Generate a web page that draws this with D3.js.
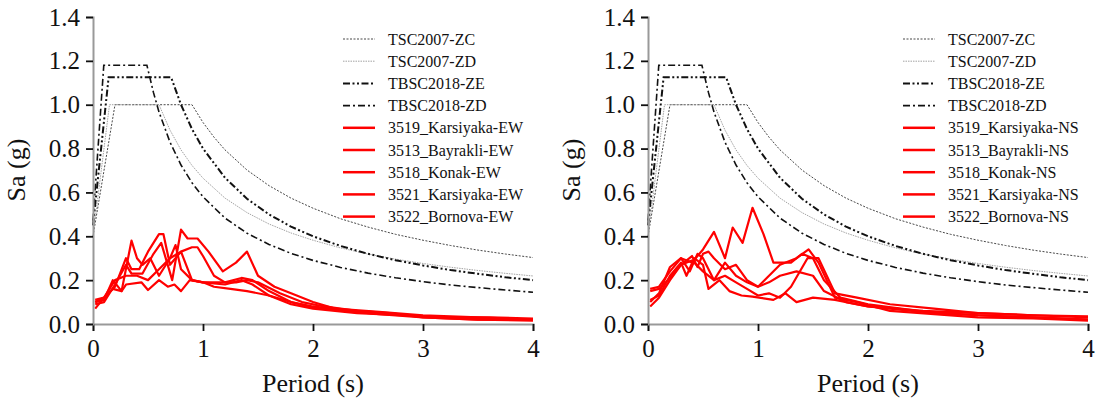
<!DOCTYPE html>
<html><head><meta charset="utf-8">
<script src="https://cdn.jsdelivr.net/npm/d3@7"></script>
<style>
body{margin:0;background:#fff;}
</style></head>
<body><svg id="chart" width="1101" height="400"></svg>
<script>
// ---- Code design spectra (period s, Sa g) ----
const tsc2007ZC = [[0,0.40],[0.20,1.0],[0.90,1.0],[1.0,0.919],[1.1,0.852],[1.2,0.794],[1.4,0.702],[1.6,0.631],[1.8,0.574],[2.0,0.528],[2.25,0.480],[2.5,0.442],[2.75,0.409],[3.0,0.382],[3.25,0.358],[3.5,0.337],[3.75,0.319],[4.0,0.303]];
const tsc2007ZD = [[0,0.40],[0.15,1.0],[0.60,1.0],[0.7,0.884],[0.8,0.794],[0.9,0.723],[1.0,0.665],[1.2,0.574],[1.4,0.508],[1.6,0.456],[1.8,0.415],[2.0,0.382],[2.25,0.347],[2.5,0.319],[2.75,0.296],[3.0,0.276],[3.25,0.259],[3.5,0.244],[3.75,0.231],[4.0,0.219]];
const tbsc2018ZE = [[0,0.45],[0.142,1.125],[0.71,1.125],[0.8,1.0],[0.9,0.889],[1.0,0.80],[1.2,0.667],[1.4,0.571],[1.6,0.50],[1.8,0.444],[2.0,0.40],[2.25,0.356],[2.5,0.32],[2.75,0.291],[3.0,0.267],[3.25,0.246],[3.5,0.229],[3.75,0.213],[4.0,0.20]];
const tbsc2018ZD = [[0,0.472],[0.098,1.18],[0.49,1.18],[0.55,1.055],[0.6,0.967],[0.7,0.829],[0.8,0.725],[0.9,0.644],[1.0,0.58],[1.2,0.483],[1.4,0.414],[1.6,0.363],[1.8,0.322],[2.0,0.29],[2.25,0.258],[2.5,0.232],[2.75,0.211],[3.0,0.193],[3.25,0.178],[3.5,0.166],[3.75,0.155],[4.0,0.145]];

// ---- Recorded spectra, EW components ----
const ew3519 = [[0.02,0.10],[0.1,0.11],[0.18,0.20],[0.26,0.15],[0.35,0.38],[0.40,0.30],[0.45,0.27],[0.52,0.30],[0.6,0.22],[0.7,0.30],[0.75,0.36],[0.8,0.25],[0.9,0.20],[1.0,0.19],[1.2,0.19],[1.35,0.21],[1.45,0.20],[1.6,0.15],[1.8,0.10],[2.0,0.08],[2.3,0.06],[2.6,0.05],[3.0,0.035],[3.5,0.025],[4.0,0.02]];
const ew3513 = [[0.02,0.07],[0.1,0.12],[0.2,0.17],[0.3,0.30],[0.35,0.25],[0.42,0.25],[0.5,0.33],[0.6,0.41],[0.64,0.41],[0.7,0.27],[0.8,0.33],[0.9,0.20],[1.0,0.19],[1.2,0.18],[1.35,0.20],[1.45,0.18],[1.6,0.13],[1.8,0.09],[2.0,0.07],[2.4,0.05],[2.8,0.04],[3.2,0.03],[3.6,0.03],[4.0,0.025]];
const ew3518 = [[0.02,0.09],[0.1,0.10],[0.2,0.18],[0.3,0.27],[0.35,0.23],[0.45,0.23],[0.55,0.32],[0.62,0.37],[0.72,0.20],[0.8,0.43],[0.86,0.39],[0.95,0.39],[1.05,0.33],[1.18,0.24],[1.3,0.28],[1.4,0.33],[1.5,0.22],[1.65,0.17],[1.8,0.14],[2.0,0.10],[2.2,0.07],[2.6,0.055],[3.0,0.04],[3.5,0.03],[4.0,0.02]];
const ew3521 = [[0.02,0.10],[0.1,0.12],[0.2,0.20],[0.3,0.22],[0.4,0.22],[0.5,0.20],[0.6,0.25],[0.7,0.30],[0.8,0.33],[0.9,0.35],[0.95,0.35],[1.0,0.31],[1.1,0.22],[1.2,0.19],[1.3,0.19],[1.4,0.20],[1.5,0.19],[1.7,0.14],[1.9,0.10],[2.1,0.08],[2.4,0.06],[2.7,0.05],[3.0,0.03],[3.5,0.02],[4.0,0.015]];
const ew3522 = [[0.02,0.11],[0.1,0.12],[0.18,0.16],[0.26,0.15],[0.3,0.18],[0.44,0.19],[0.5,0.155],[0.6,0.20],[0.68,0.17],[0.74,0.18],[0.8,0.15],[0.88,0.20],[1.0,0.19],[1.1,0.17],[1.25,0.16],[1.4,0.15],[1.6,0.13],[1.8,0.10],[2.0,0.075],[2.3,0.06],[2.6,0.045],[3.0,0.03],[3.5,0.02],[4.0,0.02]];

// ---- Recorded spectra, NS components ----
const ns3519 = [[0.02,0.16],[0.1,0.17],[0.2,0.24],[0.3,0.30],[0.4,0.28],[0.5,0.34],[0.6,0.42],[0.7,0.30],[0.77,0.44],[0.86,0.37],[0.95,0.53],[1.05,0.41],[1.14,0.28],[1.3,0.28],[1.4,0.32],[1.5,0.30],[1.6,0.20],[1.75,0.12],[2.0,0.09],[2.3,0.07],[2.6,0.05],[3.0,0.04],[3.5,0.03],[4.0,0.02]];
const ns3513 = [[0.02,0.11],[0.1,0.13],[0.2,0.22],[0.3,0.28],[0.35,0.22],[0.42,0.30],[0.5,0.27],[0.55,0.16],[0.65,0.20],[0.74,0.15],[0.85,0.13],[0.95,0.125],[1.14,0.11],[1.25,0.14],[1.35,0.10],[1.5,0.12],[1.7,0.11],[2.0,0.08],[2.4,0.06],[3.0,0.04],[3.5,0.03],[4.0,0.02]];
const ns3518 = [[0.02,0.08],[0.1,0.12],[0.2,0.20],[0.3,0.27],[0.4,0.31],[0.45,0.26],[0.5,0.32],[0.55,0.33],[0.6,0.30],[0.7,0.25],[0.8,0.27],[0.9,0.20],[1.0,0.17],[1.1,0.19],[1.2,0.22],[1.35,0.24],[1.5,0.22],[1.6,0.15],[1.8,0.10],[2.0,0.08],[2.5,0.06],[3.0,0.05],[3.5,0.04],[4.0,0.035]];
const ns3521 = [[0.02,0.10],[0.1,0.14],[0.2,0.26],[0.3,0.30],[0.38,0.24],[0.45,0.32],[0.5,0.30],[0.6,0.20],[0.7,0.28],[0.8,0.22],[0.9,0.19],[1.0,0.17],[1.1,0.22],[1.2,0.27],[1.35,0.30],[1.46,0.34],[1.55,0.28],[1.7,0.12],[1.9,0.10],[2.2,0.06],[2.6,0.045],[3.0,0.03],[3.5,0.025],[4.0,0.015]];
const ns3522 = [[0.02,0.15],[0.1,0.16],[0.2,0.21],[0.3,0.27],[0.4,0.29],[0.5,0.24],[0.6,0.20],[0.7,0.22],[0.8,0.19],[0.9,0.16],[1.0,0.13],[1.1,0.14],[1.2,0.12],[1.3,0.17],[1.45,0.30],[1.55,0.30],[1.7,0.14],[1.9,0.12],[2.2,0.09],[2.6,0.07],[3.0,0.05],[3.5,0.04],[4.0,0.03]];

const codeNames = ["TSC2007-ZC","TSC2007-ZD","TBSC2018-ZE","TBSC2018-ZD"];
const ewNames = ["3519_Karsiyaka-EW","3513_Bayrakli-EW","3518_Konak-EW","3521_Karsiyaka-EW","3522_Bornova-EW"];
const nsNames = ["3519_Karsiyaka-NS","3513_Bayrakli-NS","3518_Konak-NS","3521_Karsiyaka-NS","3522_Bornova-NS"];
const xTicks = [0,1,2,3,4];
const yTicks = [0,0.2,0.4,0.6,0.8,1.0,1.2,1.4];

const FONT = '"Liberation Serif", serif';
const codeStyles = [
  {color:"#333", width:0.9, dash:"2,1.5"},
  {color:"#999", width:0.9, dash:"1.5,1"},
  {color:"#111", width:2, dash:"7,2.5,2,2.5,2,2.5"},
  {color:"#111", width:1.6, dash:"7,3,2,3"}
];

const svg = d3.select("#chart");

function panel(x0, recSeries, recNames, legendX){
  const x = d3.scaleLinear().domain([0,4]).range([x0, x0+440]);
  const y = d3.scaleLinear().domain([0,1.4]).range([324,17]);
  const g = svg.append("g");
  const line = d3.line().x(d=>x(d[0])).y(d=>y(d[1]));
  const codes = [tsc2007ZC, tsc2007ZD, tbsc2018ZE, tbsc2018ZD];
  codes.forEach((c,i)=>{
    g.append("path").attr("d", line(c)).attr("fill","none")
      .attr("stroke", codeStyles[i].color).attr("stroke-width", codeStyles[i].width)
      .attr("stroke-dasharray", codeStyles[i].dash);
  });
  recSeries.forEach(s=>{
    g.append("path").attr("d", line(s)).attr("fill","none")
      .attr("stroke","#ff0000").attr("stroke-width",2.2).attr("stroke-linejoin","round");
  });
  // axes
  const ax = g.append("g").attr("transform","translate(0,324)")
    .call(d3.axisBottom(x).tickValues(xTicks).tickFormat(d3.format("d")).tickSize(7).tickPadding(8));
  const ay = g.append("g").attr("transform",`translate(${x0},0)`)
    .call(d3.axisLeft(y).tickValues(yTicks).tickFormat(d3.format(".1f")).tickSize(7).tickPadding(6));
  [ax,ay].forEach(a=>{
    a.select(".domain").attr("stroke","#999").attr("stroke-width",2);
    a.selectAll(".tick line").attr("stroke","#111").attr("stroke-width",1.8);
    a.selectAll(".tick text").style("font-size","25px").attr("fill","#111").style("font-family", FONT);
  });
  g.append("text").attr("x", x0+220).attr("y", 392).attr("text-anchor","middle")
    .style("font-family", FONT).style("font-size","26px").attr("fill","#111").text("Period (s)");
  g.append("text").attr("transform",`translate(${x0-68},170) rotate(-90)`).attr("text-anchor","middle")
    .style("font-family", FONT).style("font-size","26px").attr("fill","#111").text("Sa (g)");
  // legend
  const names = codeNames.concat(recNames);
  names.forEach((n,i)=>{
    const yy = 39 + i*22.2;
    const ln = g.append("line").attr("x1",legendX).attr("x2",legendX+32).attr("y1",yy).attr("y2",yy);
    if(i<4){
      ln.attr("stroke",codeStyles[i].color).attr("stroke-width",codeStyles[i].width)
        .attr("stroke-dasharray",codeStyles[i].dash);
    } else {
      ln.attr("stroke","#ff0000").attr("stroke-width",2.5);
    }
    g.append("text").attr("x",legendX+45).attr("y",yy+5.5).style("font-family", FONT)
      .style("font-size","16px").attr("fill","#111").text(n);
  });
}

panel(93, [ew3519,ew3513,ew3518,ew3521,ew3522], ewNames, 343);
panel(648, [ns3519,ns3513,ns3518,ns3521,ns3522], nsNames, 903);
</script></body></html>
